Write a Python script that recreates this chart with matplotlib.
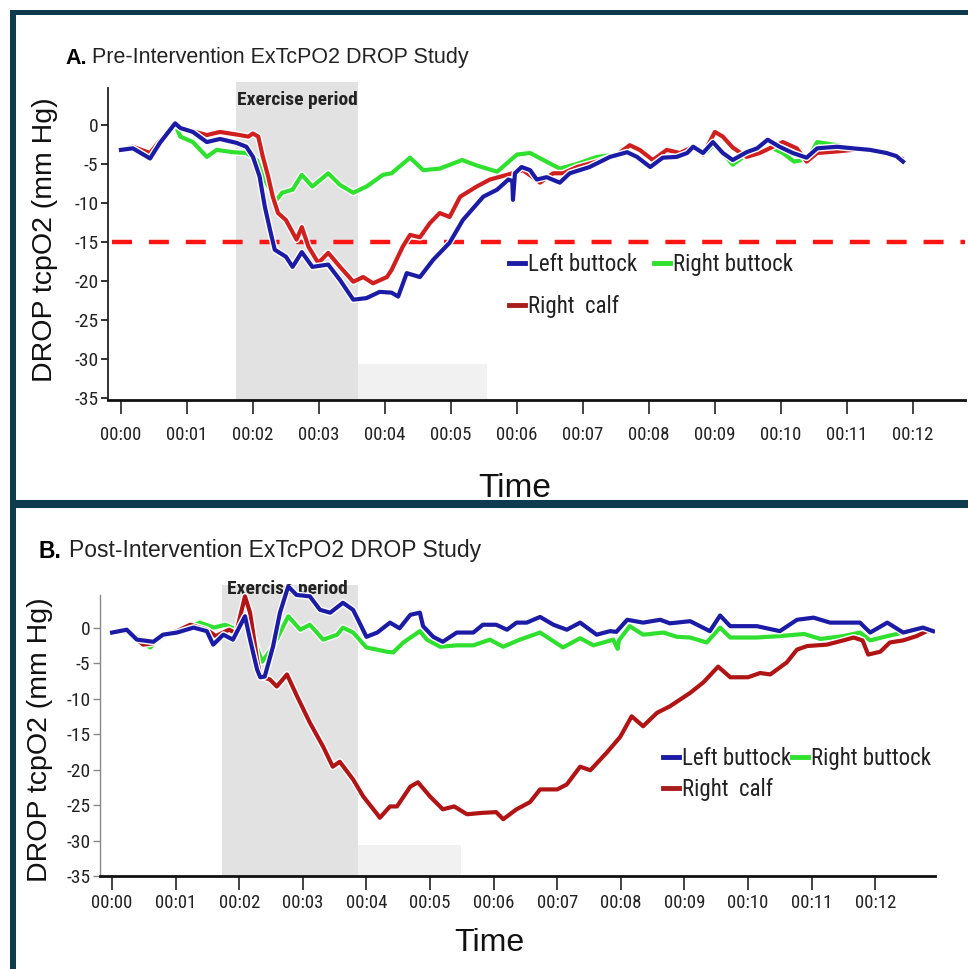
import matplotlib
matplotlib.use("Agg")
import matplotlib.pyplot as plt
import matplotlib.patheffects as pe
from matplotlib.lines import Line2D
from matplotlib.patches import Rectangle

# ---------------- data (minutes, mm Hg) ----------------
tick_minutes = list(range(13))
tick_labels = ["00:%02d" % m for m in tick_minutes]
y_ticks = [0, -5, -10, -15, -20, -25, -30, -35]

# Panel A (pre-intervention)
a_blue_t = [0.0, 0.18, 0.44, 0.59, 0.82, 0.9, 1.09, 1.3, 1.5, 1.75, 1.9, 2.0, 2.1, 2.18, 2.26, 2.33,
            2.5, 2.6, 2.74, 2.9, 3.14, 3.32, 3.52, 3.72, 3.92, 4.1, 4.2, 4.33, 4.53, 4.73, 4.98, 5.18,
            5.49, 5.7, 5.87, 5.93, 5.94, 5.97, 6.07, 6.2, 6.3, 6.45, 6.65, 6.8, 7.1, 7.41, 7.67, 7.82,
            8.02, 8.21, 8.42, 8.58, 8.67, 8.82, 8.97, 9.12, 9.27, 9.48, 9.64, 9.8, 9.98, 10.18, 10.39,
            10.55, 10.85, 11.09, 11.35, 11.6, 11.75, 11.85]
a_blue_v = [-3.2, -3.0, -4.3, -2.3, 0.2, -0.4, -0.9, -2.2, -1.8, -2.3, -2.8, -4.1, -6.6, -10.5, -13.5, -16.0,
            -16.9, -18.2, -16.3, -18.2, -17.9, -19.9, -22.4, -22.2, -21.4, -21.5, -22.0, -19.0, -19.5, -17.3, -15.1, -12.2,
            -9.2, -8.3, -7.0, -7.2, -9.6, -6.2, -5.4, -5.8, -7.0, -6.7, -7.4, -6.2, -5.4, -4.1, -3.5, -4.1,
            -5.4, -4.2, -4.1, -3.6, -2.8, -3.6, -2.2, -3.6, -4.5, -3.5, -3.0, -1.9, -2.8, -3.6, -4.2,
            -3.0, -2.8, -3.0, -3.2, -3.6, -4.0, -4.7]

a_red_t = [0.0, 0.18, 0.44, 0.59, 0.82, 1.0, 1.3, 1.5, 1.8, 1.93, 2.0, 2.08, 2.15, 2.23, 2.3, 2.38,
           2.5, 2.66, 2.74, 2.84, 2.99, 3.14, 3.32, 3.52, 3.67, 3.82, 4.03, 4.1, 4.27, 4.38, 4.53, 4.68,
           4.83, 4.98, 5.14, 5.39, 5.59, 5.85, 6.09, 6.24, 6.35, 6.55, 6.7, 6.91, 7.21, 7.52, 7.71, 7.86,
           8.06, 8.27, 8.47, 8.67, 8.82, 9.0, 9.12, 9.27, 9.48, 9.68, 9.88, 10.03, 10.24, 10.39, 10.55,
           10.85, 11.09, 11.35, 11.6, 11.83]
a_red_v = [-3.2, -2.8, -3.6, -2.0, 0.0, -0.6, -1.3, -0.9, -1.3, -1.5, -1.1, -1.5, -4.1, -6.6, -9.2, -11.3,
           -12.2, -14.7, -13.1, -15.6, -17.7, -16.4, -18.2, -20.1, -19.5, -20.3, -19.5, -18.6, -15.6, -14.1, -14.4, -12.6,
           -11.3, -11.8, -9.2, -7.9, -7.0, -6.4, -5.8, -6.7, -7.4, -6.2, -6.2, -5.4, -4.7, -3.8, -2.6, -3.2,
           -4.5, -3.2, -3.6, -2.8, -3.8, -0.9, -1.5, -2.9, -4.1, -3.6, -2.8, -2.2, -3.0, -4.7, -3.6,
           -3.4, -3.2, -3.2, -3.6, -4.3]

a_green_t = [0.0, 0.18, 0.44, 0.59, 0.82, 0.9, 1.09, 1.3, 1.45, 1.7, 1.9, 2.06, 2.15, 2.26, 2.33, 2.44,
             2.6, 2.74, 2.9, 3.14, 3.32, 3.52, 3.72, 3.97, 4.1, 4.38, 4.58, 4.83, 5.17, 5.39, 5.7, 6.0,
             6.2, 6.4, 6.65, 6.91, 7.21, 7.52, 7.71, 7.86, 8.06, 8.27, 8.47, 8.67, 8.82, 8.97, 9.12, 9.27,
             9.48, 9.68, 9.88, 10.03, 10.2, 10.4, 10.55, 10.85, 11.09, 11.35, 11.6, 11.8]
a_green_v = [-3.2, -3.0, -4.0, -2.3, 0.0, -1.5, -2.2, -4.1, -3.2, -3.5, -3.6, -4.5, -6.6, -8.3, -9.9, -8.7,
             -8.3, -6.4, -7.9, -6.2, -7.7, -8.7, -7.9, -6.4, -6.2, -4.2, -5.8, -5.6, -4.5, -5.2, -6.0, -3.8,
             -3.6, -4.5, -5.6, -5.0, -4.1, -3.8, -2.8, -3.2, -4.6, -3.4, -3.8, -3.0, -3.9, -2.6, -3.6, -5.1,
             -3.8, -3.4, -3.0, -3.6, -4.7, -4.4, -2.2, -2.6, -3.0, -3.2, -3.7, -4.2]

# Panel B (post-intervention)
b_blue_t = [0.0, 0.23, 0.39, 0.65, 0.8, 1.02, 1.28, 1.49, 1.59, 1.75, 1.9, 2.09, 2.17, 2.28, 2.33, 2.4,
            2.53, 2.64, 2.77, 2.9, 3.11, 3.27, 3.43, 3.63, 3.79, 4.0, 4.17, 4.37, 4.52, 4.69, 4.84, 4.89,
            5.05, 5.2, 5.42, 5.68, 5.83, 6.04, 6.21, 6.36, 6.52, 6.73, 6.94, 7.15, 7.36, 7.62, 7.83, 7.93,
            8.1, 8.35, 8.62, 8.77, 9.09, 9.4, 9.56, 9.72, 10.14, 10.5, 10.77, 11.03, 11.29, 11.76, 11.92,
            12.19, 12.44, 12.75, 12.91]
b_blue_v = [-0.7, -0.3, -1.7, -2.0, -1.0, -0.7, 0.0, -0.5, -2.4, -1.0, -1.7, 1.6, -1.7, -5.9, -7.0, -6.9,
            -2.7, 2.1, 5.8, 4.6, 4.4, 2.5, 2.1, 3.5, 2.5, -1.3, -0.7, 0.7, -0.1, 1.8, 2.1, 0.2,
            -1.3, -2.0, -0.7, -0.7, 0.4, 0.4, -0.3, 0.7, 0.7, 1.5, 0.4, -0.3, 0.7, -1.0, -0.5, -0.6,
            1.1, 0.7, 1.1, 0.6, 0.9, -0.5, 1.7, 0.2, 0.2, -0.5, 1.1, 1.4, 0.7, 0.7, -0.7,
            0.7, -0.7, 0.0, -0.5]

b_red_t = [0.0, 0.23, 0.49, 0.65, 0.8, 1.02, 1.23, 1.49, 1.63, 1.84, 1.95, 2.09, 2.17, 2.28, 2.33, 2.48,
           2.59, 2.75, 2.91, 3.11, 3.32, 3.47, 3.58, 3.79, 3.95, 4.17, 4.21, 4.37, 4.48, 4.69, 4.81, 5.0,
           5.2, 5.38, 5.58, 5.83, 6.04, 6.15, 6.36, 6.57, 6.73, 7.0, 7.15, 7.36, 7.52, 7.78, 7.99, 8.17,
           8.35, 8.57, 8.77, 9.09, 9.3, 9.53, 9.72, 10.0, 10.19, 10.35, 10.61, 10.77, 10.93, 11.24, 11.5,
           11.66, 11.8, 11.89, 12.08, 12.23, 12.44, 12.65, 12.81, 12.91]
b_red_v = [-0.7, -0.5, -2.4, -2.2, -1.0, -0.5, 0.4, -0.3, -1.2, -0.3, -0.8, 4.4, 2.1, -4.5, -6.9, -7.3,
           -8.3, -6.6, -9.7, -13.4, -16.8, -19.6, -18.9, -21.4, -23.8, -26.3, -26.8, -25.2, -25.2, -22.4, -21.8, -23.8,
           -25.6, -25.2, -26.3, -26.1, -26.0, -27.0, -25.6, -24.6, -22.8, -22.8, -22.1, -19.6, -20.1, -17.6, -15.4, -12.5,
           -13.9, -12.0, -11.1, -9.2, -7.7, -5.5, -7.0, -7.0, -6.4, -6.6, -4.9, -3.1, -2.6, -2.4, -1.8,
           -1.4, -1.8, -3.8, -3.4, -2.1, -1.8, -1.2, -0.5, -0.5]

b_green_t = [0.0, 0.23, 0.6, 0.8, 1.02, 1.38, 1.6, 1.78, 1.96, 2.09, 2.2, 2.36, 2.53, 2.77, 2.96, 3.11,
             3.32, 3.54, 3.63, 3.79, 4.0, 4.32, 4.42, 4.58, 4.84, 4.95, 5.16, 5.42, 5.68, 5.94, 6.15, 6.41,
             6.73, 7.09, 7.36, 7.57, 7.88, 7.95, 7.97, 8.14, 8.35, 8.67, 8.88, 9.09, 9.35, 9.56, 9.72, 10.14,
             10.5, 10.88, 11.14, 11.5, 11.76, 11.92, 12.19, 12.44, 12.75, 12.91]
b_green_v = [-0.7, -0.3, -2.8, -1.2, -0.7, 0.7, 0.0, 0.4, -0.3, 1.2, -1.0, -4.8, -2.7, 1.6, -0.3, 0.4,
             -1.7, -1.0, 0.0, -0.7, -2.8, -3.4, -3.5, -2.1, -0.5, -1.7, -2.7, -2.5, -2.5, -1.7, -2.7, -1.7,
             -0.7, -2.8, -1.5, -2.5, -1.7, -3.0, -1.8, 0.2, -1.0, -0.7, -1.3, -1.4, -2.1, 0.0, -1.4, -1.4,
             -1.2, -0.9, -1.6, -1.2, -0.7, -1.8, -1.2, -0.7, -0.1, -0.5]

threshold = -15
exercise_a = (1.74, 3.59)
exercise_b = (1.73, 3.87)

# ---------------- styling ----------------
W, H = 968, 969
fig = plt.figure(figsize=(W / 100, H / 100), dpi=100)
fig.patch.set_facecolor("white")

NARROW = ["Liberation Sans Narrow", "DejaVu Sans Condensed", "Roboto Condensed", "Liberation Sans"]
SANS = ["Liberation Sans", "DejaVu Sans"]

BLUE = "#1b1ba6"
GREEN = "#2fe02f"
RED_A = "#cf1f1f"
RED_B = "#b01414"
RED_LEG = "#a81c1c"
BORDER = "#0e3b4e"


def fx(px):
    return px / W


def fy(py):
    return 1 - py / H


def draw_panel(ax, series, exercise, light_rect, ylims, xlims, ex_label_xy,
               left_spine_top, yspine_color, yspine_lw, legend_anchor, legend_spacing,
               legend_colspace, show_threshold, xpad):
    ax.set_xlim(*xlims)
    ax.set_ylim(*ylims)
    ax.axvspan(exercise[0], exercise[1], ymin=0, ymax=1, color="#e2e2e2", zorder=0, lw=0)
    ax.add_patch(Rectangle((light_rect[0], ylims[0]), light_rect[1] - light_rect[0],
                           light_rect[2] - ylims[0], color="#f1f1f1", zorder=0, lw=0))
    ax.text(ex_label_xy[0], ex_label_xy[1], "Exercise period", ha="center", va="center",
            fontsize=14, fontweight="bold", family=NARROW, color="#222222", zorder=1)
    if show_threshold:
        ax.axhline(threshold, xmin=0.005, xmax=1, color="#ff1414", lw=3.2,
                   dashes=(4.5, 3.8), zorder=2)
    halo = [pe.Stroke(linewidth=5.0, foreground="white"), pe.Normal()]
    for name, (t, v, c) in series.items():
        ax.plot(t, v, color=c, lw=3.0, solid_joinstyle="round", zorder=3, path_effects=halo)
    for s in ["top", "right"]:
        ax.spines[s].set_visible(False)
    ax.spines["left"].set_bounds(ylims[0], left_spine_top)
    ax.spines["left"].set_color(yspine_color)
    ax.spines["left"].set_linewidth(yspine_lw)
    ax.spines["bottom"].set_linewidth(2.0)
    ax.spines["bottom"].set_color("#111111")
    ax.set_xticks(tick_minutes)
    ax.set_xticklabels(tick_labels, family=NARROW, fontsize=13.5, color="#222222")
    ax.set_yticks(y_ticks)
    ax.set_yticklabels([str(v) for v in y_ticks], family=NARROW, fontsize=14, color="#222222")
    ax.tick_params(axis="x", direction="out", length=10, width=1.2, pad=xpad, color="#222222")
    ax.tick_params(axis="y", direction="out", length=5, width=yspine_lw, pad=2, color=yspine_color)
    ax.set_facecolor("none")
    leg_handles = [Line2D([], [], color=BLUE, lw=3.5),
                   Line2D([], [], color=RED_LEG, lw=3.5),
                   Line2D([], [], color=GREEN, lw=3.5)]
    leg = ax.legend(leg_handles, ["Left buttock", "Right  calf", "Right buttock"], ncol=2,
                    loc="upper left", bbox_to_anchor=legend_anchor, frameon=False,
                    handlelength=0.7, handletextpad=0.12, columnspacing=legend_colspace,
                    labelspacing=legend_spacing, borderpad=0, borderaxespad=0,
                    prop={"family": NARROW, "size": 16.5})
    for txt in leg.get_texts():
        txt.set_color("#222222")


# Panel A axes: pixel box x 108..965, y 82..400
axA = fig.add_axes([fx(108), fy(400), fx(965) - fx(108), fy(82) - fy(400)])
draw_panel(axA,
           {"Right buttock": (a_green_t, a_green_v, GREEN),
            "Right calf": (a_red_t, a_red_v, RED_A),
            "Left buttock": (a_blue_t, a_blue_v, BLUE)},
           exercise_a, (3.59, 5.55, -30.7), (-35.26, 5.5), (-0.197, 12.79),
           (2.67, 3.2), 4.7, "#222222", 1.3, (0.468, 0.461), 0.83, 0.75, True, 9)

# Panel B axes: pixel box x 100..935, y 585..876
axB = fig.add_axes([fx(100), fy(876), fx(935) - fx(100), fy(585) - fy(876)])
draw_panel(axB,
           {"Right buttock": (b_green_t, b_green_v, GREEN),
            "Right calf": (b_red_t, b_red_v, RED_B),
            "Left buttock": (b_blue_t, b_blue_v, BLUE)},
           exercise_b, (3.87, 5.49, -30.7), (-34.93, 6.0), (-0.19, 12.94),
           (2.75, 5.4), 4.6, "#888888", 1.0, (0.674, 0.442), 0.32, 0.05, False, 3)

# Titles
fig.text(fx(65), fy(58), "A.", fontsize=15.5, fontweight="bold", family=SANS, va="center", ha="left")
fig.text(fx(92), fy(58), "Pre-Intervention ExTcPO2 DROP Study", fontsize=15.5, family=SANS,
         va="center", ha="left", color="#222222")
fig.text(fx(38), fy(551), "B.", fontsize=16.5, fontweight="bold", family=SANS, va="center", ha="left")
fig.text(fx(69), fy(551), "Post-Intervention ExTcPO2 DROP Study", fontsize=16.5, family=SANS,
         va="center", ha="left", color="#222222")

# Axis labels
fig.text(fx(45), fy(240), "DROP tcpO2 (mm Hg)", rotation=90, fontsize=20.5, family=SANS,
         va="center", ha="center", color="#111111")
fig.text(fx(40), fy(740), "DROP tcpO2 (mm Hg)", rotation=90, fontsize=20.5, family=SANS,
         va="center", ha="center", color="#111111")
fig.text(fx(515), fy(497), "Time", fontsize=24, family=SANS, va="baseline", ha="center",
         color="#111111")
fig.text(fx(489), fy(951), "Time", fontsize=23, family=SANS, va="baseline", ha="center",
         color="#111111")

# Panel frames
for (x0, y0, x1, y1) in [(10, 10, 968, 15), (10, 10, 16, 969), (10, 500, 968, 508)]:
    fig.add_artist(Rectangle((fx(x0), fy(y1)), fx(x1) - fx(x0), fy(y0) - fy(y1),
                             transform=fig.transFigure, color=BORDER, lw=0, zorder=10))

fig.savefig("out.png", dpi=100, facecolor="white")
